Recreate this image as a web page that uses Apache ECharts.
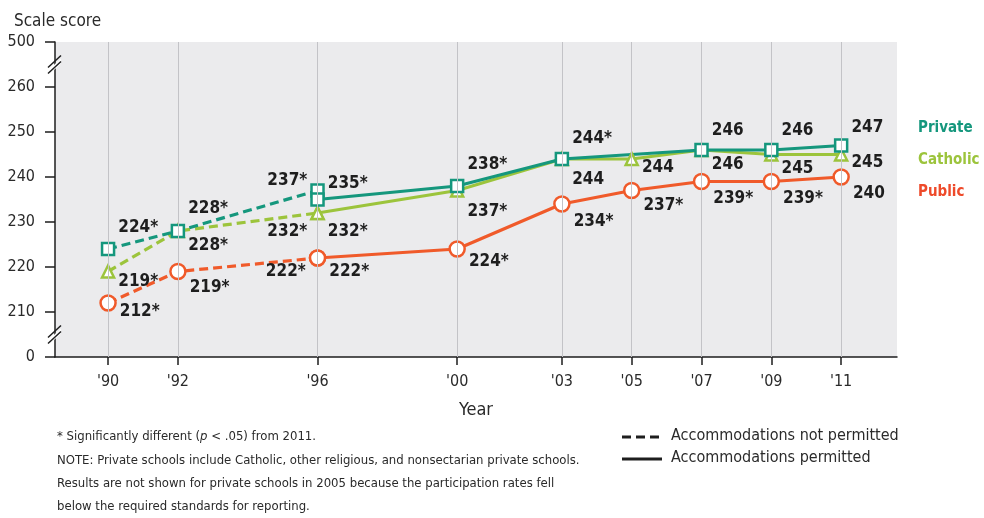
<!DOCTYPE html>
<html>
<head>
<meta charset="utf-8">
<script src="https://cdn.jsdelivr.net/npm/echarts@6/dist/echarts.min.js"></script>
<style>
  html, body { margin: 0; padding: 0; background: #fff; }
  #chart { width: 984px; height: 518px; }
</style>
</head>
<body>
<div id="chart"></div>
<script>
// years on the axis
const years = [1990, 1992, 1996, 2000, 2003, 2005, 2007, 2009, 2011];
const notPermittedYears = [1990, 1992, 1996];
const permittedYears = [1996, 2000, 2003, 2005, 2007, 2009, 2011];

// scale scores
const privateNotPermitted = [224, 228, 237];
const privatePermitted = [235, 238, 244, null, 246, 246, 247];
const catholicNotPermitted = [219, 228, 232];
const catholicPermitted = [232, 237, 244, 244, 246, 245, 245];
const publicNotPermitted = [212, 219, 222];
const publicPermitted = [222, 224, 234, 237, 239, 239, 240];

// * = significantly different from 2011
const privateNotPermittedSig = [1, 1, 1];
const privatePermittedSig = [1, 1, 1, 0, 0, 0, 0];
const catholicNotPermittedSig = [1, 1, 1];
const catholicPermittedSig = [1, 1, 0, 0, 0, 0, 0];
const publicNotPermittedSig = [1, 1, 1];
const publicPermittedSig = [1, 1, 1, 1, 1, 1, 0];

// broken y axis: 200 stands for 0, 270 stands for 500
const yTickLabels = { 200: "0", 270: "500" };
const yBreaks = [205, 265];

// label placement (side, vertical shift)
const privateNotPermittedPlace = [["r", -21], ["r", -22], ["l", -10]];
const privatePermittedPlace = [["r", -16], ["r", -21], ["r", -20], ["r", 0], ["r", -19], ["r", -19], ["r", -18]];
const catholicNotPermittedPlace = [["r", 10], ["r", 15], ["l", 19]];
const catholicPermittedPlace = [["r", 19], ["r", 21], ["r", 21], ["r", 9], ["r", 15], ["r", 14], ["r", 8]];
const publicNotPermittedPlace = [["r", 9], ["r", 16], ["l", 14]];
const publicPermittedPlace = [["r", 14], ["r", 13], ["r", 18], ["r", 15], ["r", 17], ["r", 17], ["r", 17]];

const FONT = "'DejaVu Sans Condensed', 'Liberation Sans Narrow', sans-serif";
const C_PRIVATE = "#15977d";
const C_CATHOLIC = "#9cc43c";
const C_PUBLIC = "#f05a2a";

const chart = echarts.init(document.getElementById("chart"));

function makeSeries(name, color, symbol, size, xs, ys, sig, place, dashed) {
  const data = [];
  xs.forEach((x, i) => {
    if (ys[i] === null) return;
    const side = place[i][0];
    data.push({
      value: [x, ys[i]],
      label: {
        position: side === "l" ? "left" : "right",
        offset: [0, place[i][1]],
      },
    });
  });
  return {
    name: name,
    type: "line",
    data: data,
    connectNulls: true,
    symbol: symbol,
    symbolSize: size,
    showAllSymbol: true,
    itemStyle: { color: "#fff", borderColor: color, borderWidth: 2.5 },
    lineStyle: { color: color, width: 3.2, type: dashed ? [9, 5] : "solid" },
    label: {
      show: true,
      distance: 3,
      fontFamily: FONT,
      fontWeight: "bold",
      fontSize: 17,
      color: "#1e1e1e",
      formatter: (p) => {
        const idx = xs.indexOf(p.value[0]);
        return p.value[1] + (sig[idx] ? "*" : "");
      },
    },
    emphasis: { disabled: true },
    animation: false,
  };
}

const series = [
  {
    name: "grid",
    type: "line",
    data: [],
    silent: true,
    markLine: {
      silent: true,
      symbol: "none",
      label: { show: false },
      lineStyle: { color: "#c3c3c7", width: 1, type: "solid" },
      data: years.map((y) => ({ xAxis: y })),
      animation: false,
    },
  },
  makeSeries("Catholic", C_CATHOLIC, "triangle", 12, notPermittedYears, catholicNotPermitted, catholicNotPermittedSig, catholicNotPermittedPlace, true),
  makeSeries("Catholic", C_CATHOLIC, "triangle", 12, permittedYears, catholicPermitted, catholicPermittedSig, catholicPermittedPlace, false),
  makeSeries("Private", C_PRIVATE, "rect", 12, notPermittedYears, privateNotPermitted, privateNotPermittedSig, privateNotPermittedPlace, true),
  makeSeries("Private", C_PRIVATE, "rect", 12, permittedYears, privatePermitted, privatePermittedSig, privatePermittedPlace, false),
  makeSeries("Public", C_PUBLIC, "circle", 15, notPermittedYears, publicNotPermitted, publicNotPermittedSig, publicNotPermittedPlace, true),
  makeSeries("Public", C_PUBLIC, "circle", 15, permittedYears, publicPermitted, publicPermittedSig, publicPermittedPlace, false),
];

const option = {
  animation: false,
  title: {
    text: "Scale score",
    left: 9,
    top: 8,
    textStyle: { fontFamily: FONT, fontWeight: "normal", fontSize: 17, color: "#2a2a2a" },
  },
  grid: {
    left: 55,
    right: 87,
    top: 42,
    bottom: 161,
    show: true,
    backgroundColor: "#ebebed",
    borderWidth: 0,
  },
  xAxis: {
    type: "value",
    min: 1988.48,
    max: 2012.6,
    name: "Year",
    nameLocation: "middle",
    nameGap: 44,
    nameTextStyle: { fontFamily: FONT, fontSize: 18, color: "#2a2a2a" },
    axisLine: { show: true, lineStyle: { color: "#1e1e1e", width: 1.5 } },
    axisTick: { show: true, length: 8, customValues: years, lineStyle: { color: "#1e1e1e", width: 1.5 } },
    axisLabel: {
      customValues: years,
      margin: 17,
      fontFamily: FONT,
      fontSize: 16,
      color: "#2a2a2a",
      formatter: (v) => "'" + String(v).slice(2),
    },
    splitLine: { show: false },
  },
  yAxis: {
    type: "value",
    min: 200,
    max: 270,
    interval: 10,
    axisLine: { show: true, lineStyle: { color: "#1e1e1e", width: 1.5 } },
    axisTick: { show: true, length: 10, lineStyle: { color: "#1e1e1e", width: 1.5 } },
    axisLabel: {
      margin: 20,
      fontFamily: FONT,
      fontSize: 16,
      color: "#2a2a2a",
      formatter: (v) => (yTickLabels[v] !== undefined ? yTickLabels[v] : String(v)),
    },
    splitLine: { show: false },
  },
  series: series,
};

chart.setOption(option);

// axis break marks, legend and notes
const gx = chart.convertToPixel({ xAxisIndex: 0 }, 1988.48);
const graphics = [];
yBreaks.forEach((v) => {
  const py = chart.convertToPixel({ yAxisIndex: 0 }, v);
  graphics.push({
    type: "polygon",
    shape: { points: [[gx - 7, py + 6], [gx + 6, py - 6], [gx + 6, py - 1], [gx - 7, py + 11]] },
    style: { fill: "#fff" },
    z: 10,
  });
  graphics.push({
    type: "line",
    shape: { x1: gx - 7, y1: py + 3, x2: gx + 6, y2: py - 9 },
    style: { stroke: "#1e1e1e", lineWidth: 1.5 },
    z: 11,
  });
  graphics.push({
    type: "line",
    shape: { x1: gx - 7, y1: py + 9, x2: gx + 6, y2: py - 3 },
    style: { stroke: "#1e1e1e", lineWidth: 1.5 },
    z: 11,
  });
});

const names = [
  ["Private", C_PRIVATE, 130],
  ["Catholic", C_CATHOLIC, 162],
  ["Public", "#ee4a2a", 194],
];
names.forEach((n) => {
  graphics.push({
    type: "text",
    left: 918,
    top: n[2] - 9,
    style: { text: n[0], fill: n[1], font: "bold 15px " + FONT },
  });
});

// legend for line style
graphics.push({
  type: "line",
  shape: { x1: 622, y1: 437, x2: 662, y2: 437 },
  style: { stroke: "#1e1e1e", lineWidth: 3, lineDash: [9, 5] },
});
graphics.push({
  type: "line",
  shape: { x1: 622, y1: 459, x2: 662, y2: 459 },
  style: { stroke: "#1e1e1e", lineWidth: 3 },
});
graphics.push({
  type: "text",
  left: 671,
  top: 428,
  style: { text: "Accommodations not permitted", fill: "#2a2a2a", font: "16px " + FONT },
});
graphics.push({
  type: "text",
  left: 671,
  top: 450,
  style: { text: "Accommodations permitted", fill: "#2a2a2a", font: "16px " + FONT },
});

// footnotes
graphics.push({
  type: "text",
  left: 57,
  top: 430,
  style: {
    text: "* Significantly different ({i|p} < .05) from 2011.",
    fill: "#2a2a2a",
    font: "13px " + FONT,
    rich: { i: { fontStyle: "italic", fontFamily: FONT, fontSize: 13, fill: "#2a2a2a" } },
  },
});
const notes = [
  "NOTE: Private schools include Catholic, other religious, and nonsectarian private schools.",
  "Results are not shown for private schools in 2005 because the participation rates fell",
  "below the required standards for reporting.",
];
notes.forEach((t, i) => {
  graphics.push({
    type: "text",
    left: 57,
    top: 454 + i * 23,
    style: { text: t, fill: "#2a2a2a", font: "13px " + FONT },
  });
});

chart.setOption({ graphic: graphics });
</script>
</body>
</html>
